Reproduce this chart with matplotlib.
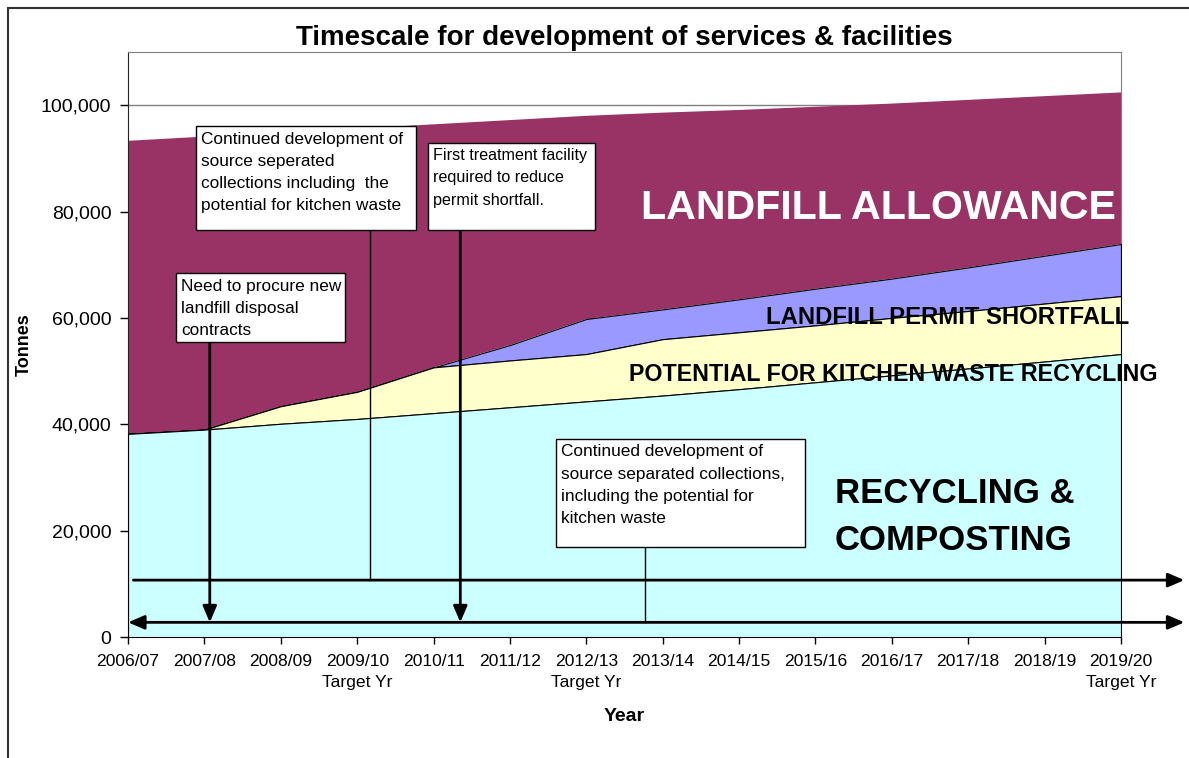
import matplotlib
matplotlib.use("Agg")
import matplotlib.pyplot as plt
from matplotlib.patches import Rectangle
import numpy as np

plt.rcParams['font.family'] = ['Liberation Sans', 'DejaVu Sans']

# years on the x axis
years = ["2006/07", "2007/08", "2008/09", "2009/10", "2010/11", "2011/12", "2012/13",
         "2013/14", "2014/15", "2015/16", "2016/17", "2017/18", "2018/19", "2019/20"]
year_labels = ["2006/07", "2007/08", "2008/09", "2009/10\nTarget Yr", "2010/11", "2011/12",
               "2012/13\nTarget Yr", "2013/14", "2014/15", "2015/16", "2016/17", "2017/18",
               "2018/19", "2019/20\nTarget Yr"]

# stacked series (tonnes)
recycling = [38200, 39000, 40100, 41000, 42100, 43200, 44300, 45400, 46600, 47900, 49200, 50500, 51800, 53200]
kitchen = [0, 0, 3300, 5100, 8600, 8800, 8900, 10600, 10700, 10700, 10800, 10800, 10900, 10900]
shortfall = [0, 0, 0, 0, 0, 2900, 6600, 5600, 6200, 6900, 7400, 8200, 9000, 9800]
allowance = [55100, 55100, 51500, 49500, 45700, 42300, 38200, 37000, 35600, 34200, 32900, 31500, 30000, 28500]

x = np.arange(len(years))
lvl1 = np.array(recycling)
lvl2 = lvl1 + np.array(kitchen)
lvl3 = lvl2 + np.array(shortfall)
lvl4 = lvl3 + np.array(allowance)

fig = plt.figure(figsize=(11.89, 7.58), dpi=100)
ax = fig.add_axes([0.1077, 0.1596, 0.8351, 0.7718])

# areas
ax.fill_between(x, lvl3, lvl4, facecolor="#993366", linewidth=0, zorder=2)
ax.fill_between(x, lvl2, lvl3, facecolor="#9999FF", edgecolor="black", linewidth=0.8, zorder=3)
ax.fill_between(x, lvl1, lvl2, facecolor="#FFFFCC", edgecolor="black", linewidth=0.8, zorder=3)
ax.fill_between(x, 0, lvl1, facecolor="#CCFFFF", edgecolor="black", linewidth=0.8, zorder=3)

ax.set_xlim(0, len(years) - 1)
ax.set_ylim(0, 110000)
ax.set_yticks([0, 20000, 40000, 60000, 80000, 100000])
ax.set_yticklabels(["0", "20,000", "40,000", "60,000", "80,000", "100,000"], fontsize=14)
ax.set_xticks(x)
ax.set_xticklabels(year_labels, fontsize=12.6, linespacing=1.5)
ax.tick_params(axis="y", length=6, width=1, pad=6)
ax.tick_params(axis="x", length=5, width=1, pad=7)

ax.yaxis.grid(True, color="#808080", linewidth=1)
ax.set_axisbelow(True)
for s in ["top", "right"]:
    ax.spines[s].set_color("#808080")
for s in ["left", "bottom"]:
    ax.spines[s].set_color("#222222")

ax.set_title("Timescale for development of services & facilities", fontsize=20, fontweight="bold", pad=5)
ax.set_xlabel("Year", fontsize=14, fontweight="bold")
ax.xaxis.set_label_coords(0.5, -0.135)
ax.xaxis.label.set_va("center")
ax.set_ylabel("Tonnes", fontsize=13, fontweight="bold")
ax.yaxis.set_label_coords(-0.0957, 0.5)

# big area labels
ax.text(6.71, 80600, "LANDFILL ALLOWANCE", color="white", fontsize=29.6, fontweight="bold", va="center", zorder=6)
ax.text(8.35, 60000, "LANDFILL PERMIT SHORTFALL", fontsize=17.2, fontweight="bold", va="center", zorder=6, clip_on=False)
ax.text(6.56, 49400, "POTENTIAL FOR KITCHEN WASTE RECYCLING", fontsize=16.75, fontweight="bold", va="center", zorder=6, clip_on=False)
ax.text(9.25, 22500, "RECYCLING &\nCOMPOSTING", fontsize=25, fontweight="bold", va="center", linespacing=1.53, zorder=6)

# timeline arrows
arr = dict(arrowstyle="-|>,head_length=0.7,head_width=0.3", color="black", lw=2, shrinkA=0, shrinkB=0, mutation_scale=14)
dbl = dict(arrowstyle="<|-|>,head_length=0.7,head_width=0.3", color="black", lw=2, shrinkA=0, shrinkB=0, mutation_scale=14)
ax.annotate("", xy=(13.83, 10700), xytext=(0.07, 10700), arrowprops=arr, annotation_clip=False, zorder=7)
ax.annotate("", xy=(13.83, 2760), xytext=(0.0, 2760), arrowprops=dbl, annotation_clip=False, zorder=7)
ax.annotate("", xy=(1.07, 2760), xytext=(1.07, 55500), arrowprops=arr, zorder=7)
ax.annotate("", xy=(4.35, 2760), xytext=(4.35, 76500), arrowprops=arr, zorder=7)
ax.plot([3.17, 3.17], [10700, 76500], color="black", lw=1, zorder=7)
ax.plot([6.77, 6.77], [2760, 17000], color="black", lw=1, zorder=7)


def note(x0, x1, y0, y1, txt, size=12.4):
    ax.add_patch(Rectangle((x0, y0), x1 - x0, y1 - y0, facecolor="white", edgecolor="black", lw=1, zorder=8))
    ax.text(x0 + 0.065, y1 - 1000, txt, fontsize=size, va="top", ha="left", linespacing=1.6, zorder=9)


note(0.63, 2.84, 55500, 68400, "Need to procure new\nlandfill disposal\ncontracts")
note(0.89, 3.77, 76500, 96050, "Continued development of\nsource seperated\ncollections including  the\npotential for kitchen waste")
note(3.93, 6.11, 76500, 92900, "First treatment facility\nrequired to reduce\npermit shortfall.", size=11.6)
note(5.60, 8.86, 17000, 37200, "Continued development of\nsource separated collections,\nincluding the potential for\nkitchen waste")

# outer chart border
fig.patches.append(Rectangle((8 / 1189, -0.1), 1.2, 1.1 - 8 / 758, transform=fig.transFigure,
                             fill=False, edgecolor="#333333", lw=1.5))

fig.savefig("out.png", dpi=100)
